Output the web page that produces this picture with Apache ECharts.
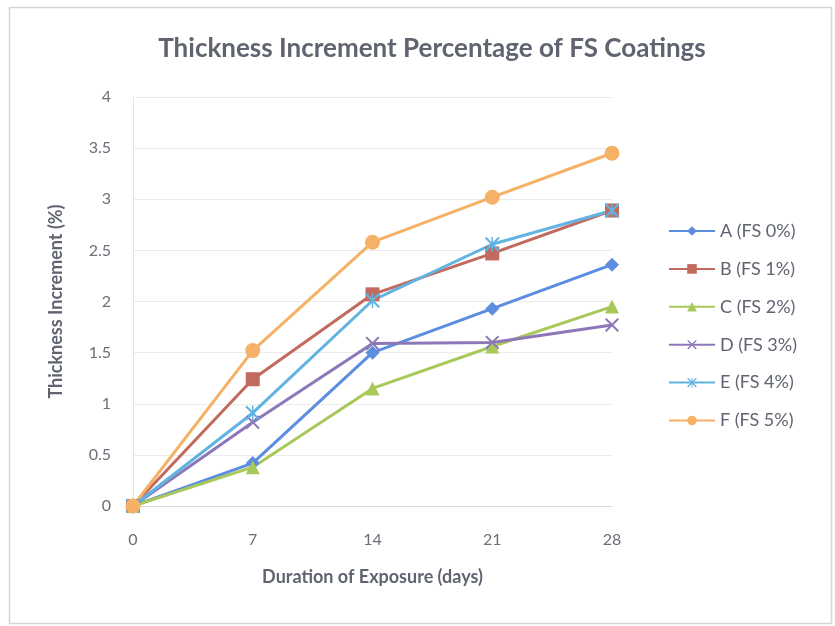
<!DOCTYPE html>
<html>
<head>
<meta charset="utf-8">
<script src="https://cdn.jsdelivr.net/npm/echarts@6/dist/echarts.min.js"></script>
<style>
  html, body { margin: 0; padding: 0; background: #fff; }
  #chart { width: 835px; height: 626px; }
</style>
</head>
<body>
<div id="chart"></div>
<script>
// 数据
const days = ['0', '7', '14', '21', '28'];
const seriesNames = ['A (FS 0%)', 'B (FS 1%)', 'C (FS 2%)', 'D (FS 3%)', 'E (FS 4%)', 'F (FS 5%)'];
const fs0 = [0, 0.42, 1.50, 1.93, 2.36];
const fs1 = [0, 1.24, 2.07, 2.47, 2.89];
const fs2 = [0, 0.38, 1.15, 1.56, 1.95];
const fs3 = [0, 0.82, 1.59, 1.60, 1.77];
const fs4 = [0, 0.91, 2.01, 2.56, 2.89];
const fs5 = [0, 1.52, 2.58, 3.02, 3.45];
const yTicks = [0, 0.5, 1, 1.5, 2, 2.5, 3, 3.5, 4];

const colors = ['#5b8de0', '#c26a5e', '#a8c95a', '#8c78b8', '#62b3e2', '#f5b165'];
const xPath = 'path://M0,2 L2,0 L10,8 L18,0 L20,2 L12,10 L20,18 L18,20 L10,12 L2,20 L0,18 L8,10 Z';
const starPath = 'path://M0,2 L2,0 L10,8 L18,0 L20,2 L12,10 L20,18 L18,20 L10,12 L2,20 L0,18 L8,10 Z M9,0 L11,0 L11,20 L9,20 Z';
const symbols = ['diamond', 'rect', 'triangle', xPath, starPath, 'circle'];
const sizes = [14, 14, 14, 14, 15, 15];
const allData = [fs0, fs1, fs2, fs3, fs4, fs5];

const font = 'Lato, Open Sans, sans-serif';
const chart = echarts.init(document.getElementById('chart'));

const option = {
  backgroundColor: '#fff',
  animation: false,
  color: colors,
  title: {
    text: 'Thickness Increment Percentage of FS Coatings',
    left: 427, top: 31, textAlign: 'center',
    textStyle: { fontFamily: font, fontSize: 26, fontWeight: 'bold', color: '#5f6470' }
  },
  graphic: [{
    type: 'rect', left: 7, top: 5,
    shape: { width: 822, height: 616 },
    style: { fill: 'none', stroke: '#d6d6d6', lineWidth: 1.5 }
  }],
  legend: {
    orient: 'vertical', left: 663, top: 217,
    itemWidth: 46, itemHeight: 12, itemGap: 19.9,
    textStyle: { fontFamily: font, fontSize: 18, color: '#5f6470' },
    data: seriesNames
  },
  grid: { left: 133, right: 223, top: 97, bottom: 120 },
  xAxis: {
    type: 'category', data: days, boundaryGap: false,
    name: 'Duration of Exposure (days)', nameLocation: 'middle', nameGap: 62,
    nameTextStyle: { fontFamily: font, fontSize: 18, fontWeight: 'bold', color: '#5f6470' },
    axisLine: { lineStyle: { color: '#d9d9d9' } },
    axisTick: { show: false },
    axisLabel: { fontFamily: font, fontSize: 16, color: '#6b6f78', margin: 26 },
    splitLine: { show: false }
  },
  yAxis: {
    type: 'value', min: 0, max: 4, interval: 0.5,
    name: 'Thickness Increment (%)', nameLocation: 'middle', nameGap: 68,
    nameTextStyle: { fontFamily: font, fontSize: 18, fontWeight: 'bold', color: '#5f6470' },
    axisLine: { show: true, lineStyle: { color: '#e3e3e3' } },
    axisTick: { show: false },
    axisLabel: {
      fontFamily: font, fontSize: 16, color: '#6b6f78', margin: 22,
      formatter: v => yTicks.includes(v) ? String(v) : ''
    },
    splitLine: { lineStyle: { color: '#ececec' } }
  },
  series: allData.map((d, i) => ({
    name: seriesNames[i],
    type: 'line',
    data: d,
    symbol: symbols[i],
    symbolSize: sizes[i],
    showAllSymbol: true,
    lineStyle: { width: 3, color: colors[i] },
    itemStyle: { color: colors[i] }
  }))
};

option && chart.setOption(option);
</script>
</body>
</html>
